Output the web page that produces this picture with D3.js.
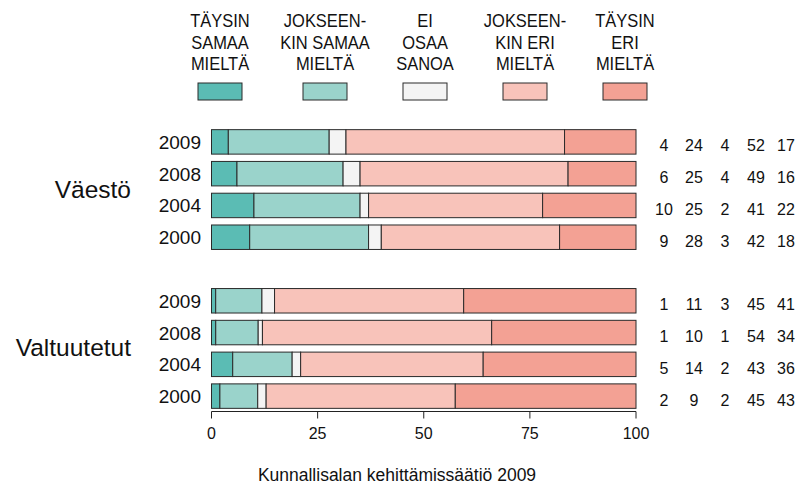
<!DOCTYPE html>
<html><head><meta charset="utf-8">
<script src="https://cdn.jsdelivr.net/npm/d3@7"></script>
<style>body{margin:0;background:#fff}svg{display:block}text{font-family:"Liberation Sans",Arial,sans-serif;fill:#111}</style>
</head><body><div id="chart"></div>
<script>
const categories = ["TÄYSIN SAMAA MIELTÄ","JOKSEENKIN SAMAA MIELTÄ","EI OSAA SANOA","JOKSEENKIN ERI MIELTÄ","TÄYSIN ERI MIELTÄ"];
const legendLines = [["TÄYSIN","SAMAA","MIELTÄ"],["JOKSEEN-","KIN SAMAA","MIELTÄ"],["EI","OSAA","SANOA"],["JOKSEEN-","KIN ERI","MIELTÄ"],["TÄYSIN","ERI","MIELTÄ"]];
const colors = ["#5bbcb4","#9ad3cb","#f4f4f4","#f8c3ba","#f3a194"];
const groups = ["Väestö","Valtuutetut"];
const years = ["2009","2008","2004","2000"];
const vaesto = [[4,24,4,52,17],[6,25,4,49,16],[10,25,2,41,22],[9,28,3,42,18]];
const valtuutetut = [[1,11,3,45,41],[1,10,1,54,34],[5,14,2,43,36],[2,9,2,45,43]];
const xTicks = [0,25,50,75,100];
const source = "Kunnallisalan kehittämissäätiö 2009";

const W=799,H=486;
const svg=d3.select("#chart").append("svg").attr("width",W).attr("height",H);

const rows=[];
groups.forEach((g,gi)=>{
  const vals = gi===0?vaesto:valtuutetut;
  years.forEach((y,yi)=>rows.push({key:g+y,group:g,year:y,values:vals[yi]}));
  if(gi===0) rows.push({key:"gap",gap:true});
});
const y=d3.scaleBand().domain(rows.map(r=>r.key)).range([126,412]).paddingInner(0.23).paddingOuter(0.115);
const x=d3.scaleLinear().domain([0,100]).range([211.5,636]);

const real=rows.filter(r=>!r.gap);
real.forEach(r=>{
  const tot=d3.sum(r.values);
  let c=0;
  r.segs=r.values.map((v,i)=>{const s={x0:c/tot*100,x1:(c+v)/tot*100,i};c+=v;return s;});
});

const rg=svg.selectAll("g.row").data(real).join("g").attr("class","row");
rg.selectAll("rect").data(r=>r.segs.map(s=>({...s,key:r.key}))).join("rect")
  .attr("x",d=>x(d.x0)).attr("width",d=>x(d.x1)-x(d.x0))
  .attr("y",d=>y(d.key)).attr("height",y.bandwidth())
  .attr("fill",d=>colors[d.i]).attr("stroke","#2a2a2a").attr("stroke-width",1);

// year labels
rg.append("text").attr("x",201).attr("y",r=>y(r.key)+y.bandwidth()/2+7)
  .attr("text-anchor","end").style("font-size","19px").text(r=>r.year);

// numbers
const numX=[664,694,725,756,786];
rg.each(function(r){
  d3.select(this).selectAll("text.num").data(r.values).join("text").attr("class","num")
   .attr("x",(d,i)=>numX[i]).attr("y",y(r.key)+y.bandwidth()/2+9.5)
   .attr("text-anchor","middle").style("font-size","16px").text(d=>d);
});

// group labels
groups.forEach(g=>{
  const keys=years.map(yr=>g+yr);
  const cy=(y(keys[0])+y(keys[3])+y.bandwidth())/2;
  svg.append("text").attr("x",131).attr("y",cy+8).attr("text-anchor","end")
    .style("font-size","24.5px").text(g);
});

// axis
const ax=svg.append("g").attr("transform","translate(0,411.5)");
ax.append("line").attr("x1",x(0)).attr("x2",x(100)).attr("stroke","#222");
ax.selectAll("line.t").data(xTicks).join("line").attr("class","t")
  .attr("x1",d=>x(d)).attr("x2",d=>x(d)).attr("y1",0).attr("y2",7).attr("stroke","#222");
ax.selectAll("text").data(xTicks).join("text").attr("x",d=>x(d)).attr("y",27)
  .attr("text-anchor","middle").style("font-size","16px").text(d=>d);

// legend
const lx=[220,325,425,525,625];
const lineY=[27,49,70];
legendLines.forEach((lines,i)=>{
  lines.forEach((t,j)=>{
    svg.append("g").attr("transform",`translate(${lx[i]},${lineY[j]}) scale(0.89,1)`)
      .append("text").attr("text-anchor","middle").style("font-size","18.5px").text(t);
  });
  svg.append("rect").attr("x",lx[i]-22).attr("y",83).attr("width",44).attr("height",17)
    .attr("fill",colors[i]).attr("stroke","#2a2a2a");
});

svg.append("text").attr("x",397).attr("y",481).attr("text-anchor","middle")
  .style("font-size","17.5px").text(source);
</script></body></html>
